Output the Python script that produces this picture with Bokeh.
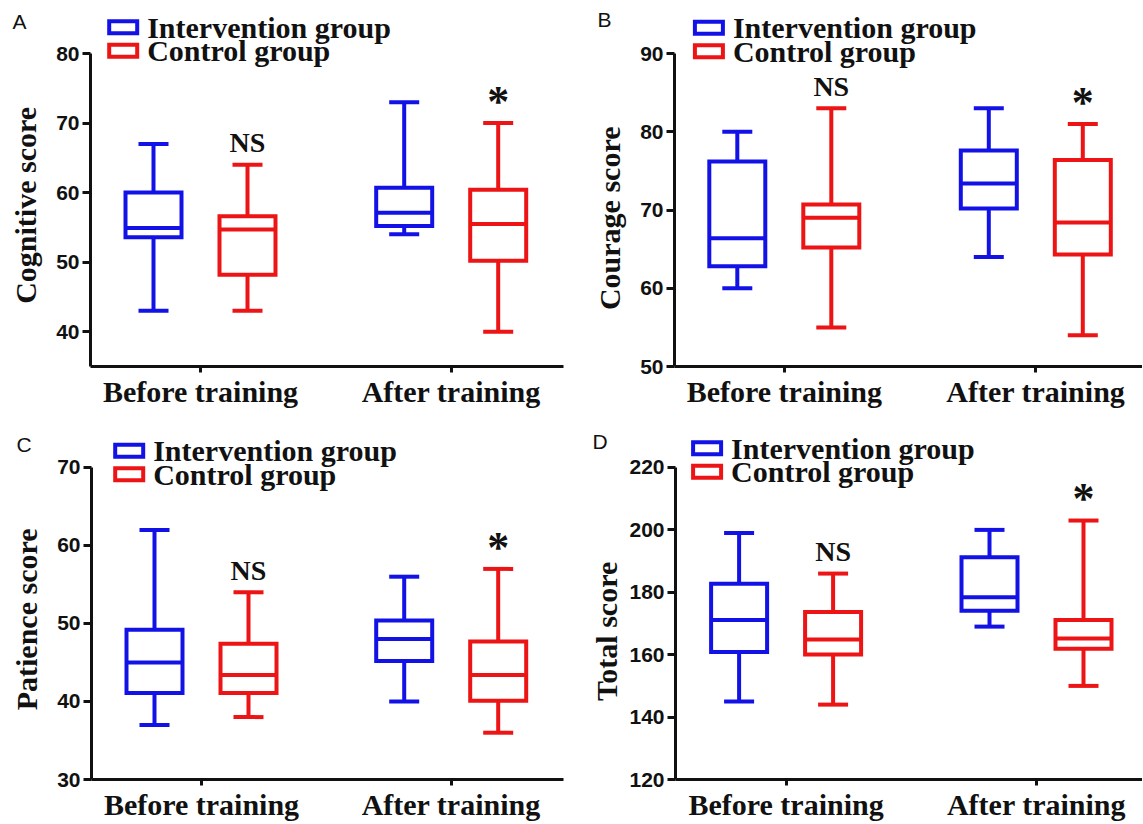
import math
from bokeh.plotting import figure
from bokeh.layouts import row, column
from bokeh.models import Range1d, FixedTicker, Label, ColumnDataSource
from bokeh.core.properties import value
from bokeh.embed import file_html
from bokeh.resources import INLINE

# ---------------- data ----------------
categories = ["Before training", "After training"]
group_names = ["Intervention group", "Control group"]
significance = ["NS", "*"]

# five-number summaries per category: [min, Q1, median, Q3, max]
cognitive_intervention = [[43, 53.6, 54.9, 60.0, 67], [54, 55.2, 57.1, 60.7, 73]]
cognitive_control = [[43, 48.2, 54.7, 56.6, 64], [40, 50.2, 55.5, 60.4, 70]]
courage_intervention = [[60, 62.8, 66.4, 76.2, 80], [64, 70.2, 73.4, 77.6, 83]]
courage_control = [[55, 65.2, 69.0, 70.7, 83], [54, 64.3, 68.4, 76.4, 81]]
patience_intervention = [[37, 41.1, 45.0, 49.2, 62], [40, 45.2, 48.0, 50.4, 56]]
patience_control = [[38, 41.1, 43.4, 47.4, 54], [36, 40.1, 43.4, 47.7, 57]]
total_intervention = [[145, 160.9, 171.1, 182.7, 199], [169, 174.1, 178.4, 191.2, 200]]
total_control = [[144, 160.1, 164.9, 173.7, 186], [150, 161.9, 165.2, 171.1, 203]]

cognitive_ticks = [40, 50, 60, 70, 80]
courage_ticks = [50, 60, 70, 80, 90]
patience_ticks = [30, 40, 50, 60, 70]
total_ticks = [120, 140, 160, 180, 200, 220]

cognitive_limits = (35, 80)
courage_limits = (50, 90)
patience_limits = (30, 70)
total_limits = (120, 220)

# ---------------- styling / layout ----------------
BLUE = "#1212e6"
RED = "#ec1414"
INK = "#111111"
SERIF = "Liberation Serif"
SANS = "Liberation Sans"

panels = [
    dict(letter="A", ylabel="Cognitive score", inter=cognitive_intervention, ctrl=cognitive_control,
         ticks=cognitive_ticks, ylim=cognitive_limits,
         fig=(0, 0, 578, 410), frame=(90, 563, 0, 368), xt=(200, 450.7), ytop_px=53.3,
         legend=(16.7, -26.3), letter_px=(12, 21), letter_side="right", ylabel_px=(24.5, 206)),
    dict(letter="B", ylabel="Courage score", inter=courage_intervention, ctrl=courage_control,
         ticks=courage_ticks, ylim=courage_limits,
         fig=(578, 0, 564, 410), frame=(674, 1142, 0, 368), xt=(783.8, 1035.3), ytop_px=53.3,
         legend=(18.4, -25.8), letter_px=(597, 19), letter_side="left", ylabel_px=(609, 219)),
    dict(letter="C", ylabel="Patience score", inter=patience_intervention, ctrl=patience_control,
         ticks=patience_ticks, ylim=patience_limits,
         fig=(0, 410, 578, 413), frame=(91, 563, 410, 781), xt=(201, 450.7), ytop_px=467.3,
         legend=(21.7, -16.8), letter_px=(16, 444), letter_side="right", ylabel_px=(26.4, 620)),
    dict(letter="D", ylabel="Total score", inter=total_intervention, ctrl=total_control,
         ticks=total_ticks, ylim=total_limits,
         fig=(578, 410, 564, 413), frame=(675, 1142, 410, 781), xt=(785.6, 1036), ytop_px=467.3,
         legend=(15.6, -19.3), letter_px=(592, 441.5), letter_side="left", ylabel_px=(605.6, 632)),
]

GROUP_OFFSET_PX = 47
BOX_W_PX = 56
CAP_W_PX = 30
LW = 4


def build(cfg):
    fx, fy, W, H = cfg["fig"]
    fl, fr, ft, fb = cfg["frame"]
    ymin, ymax = cfg["ylim"]
    ppu_y = (fb - cfg["ytop_px"]) / (ymax - ymin)
    y_end = ymax + (cfg["ytop_px"] - ft) / ppu_y
    t0, t1 = cfg["xt"]
    ppu_x = t1 - t0
    x_start = -(t0 - fl) / ppu_x
    x_end = (len(categories) - 1) + (fr - t1) / ppu_x

    def dx(px):  # page pixel -> data x
        return x_start + (px - fl) / ppu_x

    def dy(py):  # page pixel -> data y
        return ymax - (py - cfg["ytop_px"]) / ppu_y

    p = figure(width=W, height=H,
               x_range=Range1d(x_start, x_end), y_range=Range1d(ymin, y_end),
               output_backend="svg", toolbar_location=None, tools="",
               min_border_left=int(round(fl - fx)), min_border_right=int(round(fx + W - fr)),
               min_border_top=int(round(ft - fy)), min_border_bottom=int(round(fy + H - fb)))
    p.outline_line_color = None
    p.xgrid.visible = False
    p.ygrid.visible = False
    p.background_fill_color = "white"
    p.border_fill_color = "white"

    # boxes
    for stats, color, sign in [(cfg["inter"], BLUE, -1), (cfg["ctrl"], RED, 1)]:
        off = sign * GROUP_OFFSET_PX / ppu_x
        xs = [i + off for i in range(len(categories))]
        hb = BOX_W_PX / 2 / ppu_x
        hc = CAP_W_PX / 2 / ppu_x
        src = ColumnDataSource(dict(
            x=xs,
            xl=[x - hb for x in xs], xr=[x + hb for x in xs],
            cl=[x - hc for x in xs], cr=[x + hc for x in xs],
            lo=[s[0] for s in stats], q1=[s[1] for s in stats], med=[s[2] for s in stats],
            q3=[s[3] for s in stats], hi=[s[4] for s in stats]))
        kw = dict(source=src, line_color=color, line_width=LW)
        p.segment(x0="x", y0="q3", x1="x", y1="hi", **kw)
        p.segment(x0="x", y0="lo", x1="x", y1="q1", **kw)
        p.segment(x0="cl", y0="hi", x1="cr", y1="hi", **kw)
        p.segment(x0="cl", y0="lo", x1="cr", y1="lo", **kw)
        p.vbar(x="x", width=BOX_W_PX / ppu_x, bottom="q1", top="q3", fill_color=None,
               line_join="miter", **kw)
        p.segment(x0="xl", y0="med", x1="xr", y1="med", **kw)

    # significance marks above the control group
    ctrl_hi = [s[4] for s in cfg["ctrl"]]
    for i, sig in enumerate(significance):
        x = i + GROUP_OFFSET_PX / ppu_x
        size = "44px" if sig == "*" else "28px"
        p.text(x=[x], y=[ctrl_hi[i] + 22 / ppu_y], text=[sig], text_align="center",
               text_baseline="middle", text_font=value(SERIF), text_font_style="bold",
               text_font_size=size, text_color=INK)

    # legend (hollow swatches + labels)
    lx, ly = cfg["legend"]
    for k, (name, color) in enumerate(zip(group_names, [BLUE, RED])):
        cy = ymax - (ly + k * 23.5) / ppu_y
        p.rect(x=[x_start + (lx + 16) / ppu_x], y=[cy], width=28, height=12,
               width_units="screen", height_units="screen", fill_color=None,
               line_color=color, line_width=LW, line_join="miter")
        p.text(x=[x_start + (lx + 40) / ppu_x], y=[cy], text=[name], text_align="left",
               text_baseline="middle", text_font=value(SERIF), text_font_style="bold",
               text_font_size="30px", text_color=INK)

    # axes
    xa = p.xaxis[0]
    xa.ticker = FixedTicker(ticks=list(range(len(categories))))
    xa.major_label_overrides = {i: c for i, c in enumerate(categories)}
    xa.major_label_text_font = SERIF
    xa.major_label_text_font_style = "bold"
    xa.major_label_text_font_size = "30px"
    xa.major_label_text_color = INK
    xa.major_label_standoff = 2
    xa.major_tick_out = 6
    xa.major_tick_in = 0
    xa.minor_tick_out = 0
    xa.minor_tick_in = 0

    ya = p.yaxis[0]
    ya.ticker = FixedTicker(ticks=cfg["ticks"])
    ya.bounds = (ymin, ymax)
    ya.major_label_text_font = SANS
    ya.major_label_text_font_style = "bold"
    ya.major_label_text_font_size = "21px"
    ya.major_label_text_color = INK
    ya.major_label_standoff = 3
    ya.major_tick_out = 8
    ya.major_tick_in = 0
    ya.minor_tick_out = 0
    ya.minor_tick_in = 0

    for ax in (xa, ya):
        ax.axis_line_width = 3
        ax.axis_line_color = INK
        ax.major_tick_line_width = 3
        ax.major_tick_line_color = INK

    # y-axis title, centred on the drawn axis (side panel, so not clipped)
    yx, yy = cfg["ylabel_px"]
    p.add_layout(Label(x=dx(yx), y=dy(yy), text=cfg["ylabel"], angle=math.pi / 2,
                       text_font=SERIF, text_font_style="bold", text_font_size="30px",
                       text_align="center", text_baseline="middle", text_color=INK),
                 "left")

    # panel letter (side panel, so not clipped to the frame)
    lpx, lpy = cfg["letter_px"]
    p.add_layout(Label(x=dx(lpx), y=dy(lpy), text=cfg["letter"], text_font=SANS,
                       text_font_size="21px", text_baseline="middle", text_align="left",
                       text_color=INK),
                 cfg["letter_side"])
    return p


figs = [build(c) for c in panels]
layout = column(row(figs[0], figs[1]), row(figs[2], figs[3]))

open("out.html", "w").write(file_html(layout, INLINE))
